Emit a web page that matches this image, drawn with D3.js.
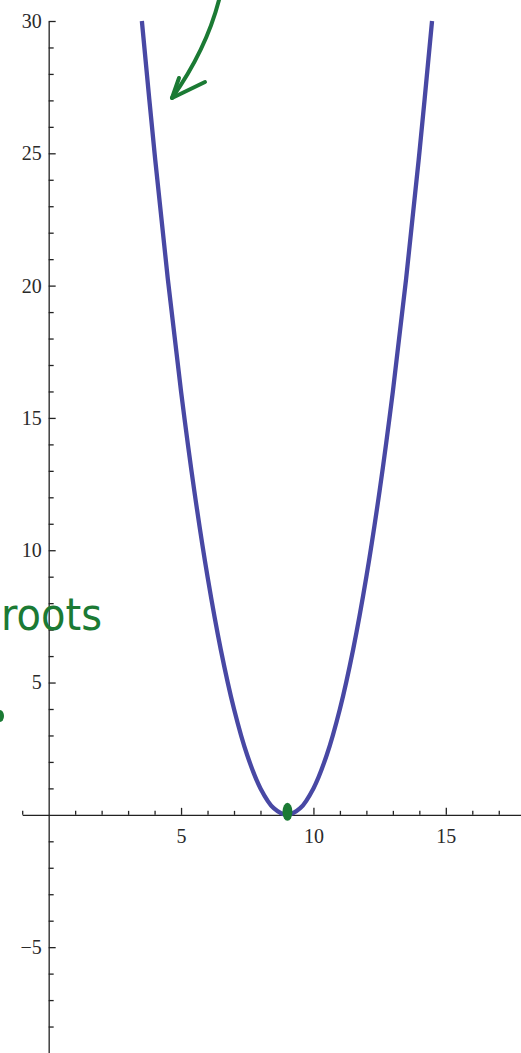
<!DOCTYPE html>
<html>
<head>
<meta charset="UTF-8">
<script src="https://d3js.org/d3.v7.min.js"></script>
<style>
  body { margin: 0; background: #fff; }
  svg { display: block; }
</style>
</head>
<body>
<div id="chart"></div>
<script>
  const width = 521;
  const height = 1053;

  // curve values (parabola touching zero at x = 9)
  const xs = [3.52, 4, 4.5, 5, 5.5, 6, 6.5, 7, 7.5, 8, 8.5, 9, 9.5, 10, 10.5, 11, 11.5, 12, 12.5, 13, 13.5, 14, 14.48];
  const ys = [30, 25, 20.25, 16, 12.25, 9, 6.25, 4, 2.25, 1, 0.25, 0, 0.25, 1, 2.25, 4, 6.25, 9, 12.25, 16, 20.25, 25, 30];

  const xMajor = [5, 10, 15];
  const xMinor = [-1, 1, 2, 3, 4, 6, 7, 8, 9, 11, 12, 13, 14, 16, 17];
  const yMajor = [-5, 5, 10, 15, 20, 25, 30];
  const yMinor = [-8, -7, -6, -4, -3, -2, -1, 1, 2, 3, 4, 6, 7, 8, 9, 11, 12, 13, 14, 16, 17, 18, 19, 21, 22, 23, 24, 26, 27, 28, 29];

  const x = d3.scaleLinear().domain([-1, 17.84]).range([22.2, 521]);
  const y = d3.scaleLinear().domain([-9, 30]).range([1053, 21]);

  const svg = d3.select("#chart").append("svg")
      .attr("width", width)
      .attr("height", height);

  const fmt = d => d < 0 ? "\u2212" + Math.abs(d) : String(d);

  // x axis
  const xg = svg.append("g").attr("transform", `translate(0,${y(0)})`);
  xg.call(d3.axisBottom(x).tickValues(xMajor).tickSize(-7).tickSizeOuter(0).tickPadding(14).tickFormat(fmt));
  xg.append("g").call(d3.axisBottom(x).tickValues(xMinor).tickSize(-4).tickSizeOuter(0).tickFormat(""))
    .select(".domain").remove();

  // y axis
  const yg = svg.append("g").attr("transform", `translate(${x(0)},0)`);
  yg.call(d3.axisLeft(y).tickValues(yMajor).tickSize(-7).tickSizeOuter(0).tickPadding(7).tickFormat(fmt));
  yg.append("g").call(d3.axisLeft(y).tickValues(yMinor).tickSize(-5).tickSizeOuter(0).tickFormat(""))
    .select(".domain").remove();

  svg.selectAll(".domain, .tick line").attr("stroke", "#222").attr("stroke-width", 1.3);
  svg.selectAll(".tick text")
      .attr("font-family", "'Liberation Serif', serif")
      .attr("font-size", 20)
      .attr("fill", "#2a2a2a");

  // the parabola
  const line = d3.line().x(d => x(d)).y((d, i) => y(ys[i])).curve(d3.curveCatmullRom);
  svg.append("path")
      .datum(xs)
      .attr("d", line)
      .attr("fill", "none")
      .attr("stroke", "#4848a4")
      .attr("stroke-width", 4.3);

  // green hand annotations
  const green = "#1b7a34";
  svg.append("path")
      .attr("d", "M219,0 Q206,50 172,98")
      .attr("fill", "none").attr("stroke", green).attr("stroke-width", 4).attr("stroke-linecap", "round");
  svg.append("path")
      .attr("d", "M179,78 L172,98 L205,82")
      .attr("fill", "none").attr("stroke", green).attr("stroke-width", 4)
      .attr("stroke-linecap", "round").attr("stroke-linejoin", "round");

  svg.append("text")
      .attr("x", 1).attr("y", 630)
      .attr("font-family", "'DejaVu Sans', sans-serif")
      .attr("font-size", 44)
      .attr("textLength", 101)
      .attr("lengthAdjust", "spacingAndGlyphs")
      .attr("fill", green)
      .text("roots");

  svg.append("ellipse").attr("cx", 0).attr("cy", 716).attr("rx", 4).attr("ry", 6).attr("fill", green);
  svg.append("ellipse").attr("cx", x(9) + 0.5).attr("cy", y(0) - 3).attr("rx", 5).attr("ry", 9).attr("fill", green);
</script>
</body>
</html>
